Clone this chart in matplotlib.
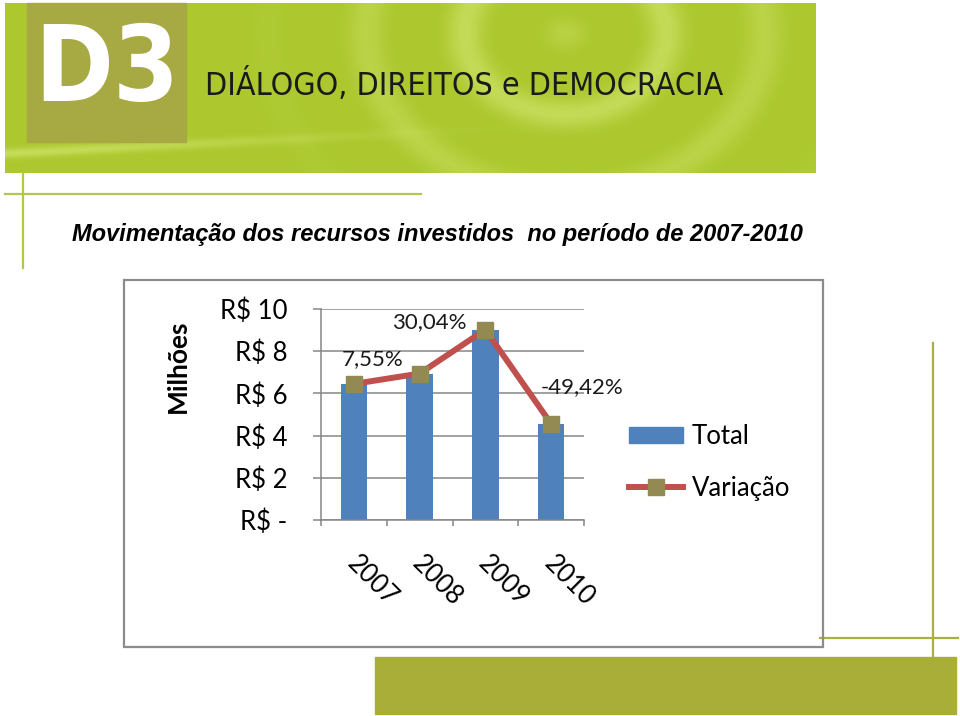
import matplotlib
matplotlib.use("Agg")
import matplotlib.pyplot as plt
import matplotlib.transforms as mtransforms
from matplotlib.patches import Rectangle, Patch
from matplotlib.lines import Line2D
import numpy as np

# dados
anos = ["2007", "2008", "2009", "2010"]
total = [6.45, 6.94, 9.02, 4.56]  # R$ milhões
variacao = ["", "7,55%", "30,04%", "-49,42%"]
y_ticks = [0, 2, 4, 6, 8, 10]
y_labels = ["R$ -", "R$ 2", "R$ 4", "R$ 6", "R$ 8", "R$ 10"]

azul = "#4F81BD"
vermelho = "#C0504D"
oliva = "#938953"
cinza = "#868686"
verde_linha = "#B3C84A"
oliva_caixa = "#A7A943"

W, H = 960, 716
fig = plt.figure(figsize=(W / 100, H / 100), dpi=100)

# fundo / decoração em coordenadas de pixel
bg = fig.add_axes([0, 0, 1, 1])
bg.set_xlim(0, W)
bg.set_ylim(H, 0)
bg.axis("off")

# faixa verde do cabeçalho
bh, bw = 170, 811
yy, xx = np.mgrid[0:bh, 0:bw]
r = np.hypot(xx - 560, (yy - 30) * 1.25)
base = np.array([172, 200, 46]) / 255
claro = np.array([214, 234, 120]) / 255
aneis = (0.5 + 0.5 * np.cos(r / 16.0)) ** 3
env = np.exp(-((r - 110) / 130) ** 2)
mix = aneis * env * 0.55
faixa = np.exp(-((yy - (150 - 0.05 * xx)) / 5.0) ** 2) * np.exp(-(xx / 300.0) ** 2) * 0.6
mix = np.clip(mix + faixa, 0, 1)
img = base * (1 - mix[..., None]) + claro * mix[..., None]
bg.imshow(img, extent=(5, 5 + bw, 3 + bh, 3), aspect="auto", zorder=0)
bg.add_patch(Rectangle((27, 3), 159, 139, color=oliva_caixa, zorder=1))
bg.text(107, 72, "D3", color="white", fontsize=76, fontweight="bold",
        family="DejaVu Sans", fontstretch="condensed", ha="center", va="center", zorder=2)
bg.text(205, 85, "DIÁLOGO, DIREITOS e DEMOCRACIA", color="#1a1a1a", fontsize=23,
        family="DejaVu Sans", fontstretch="condensed", ha="left", va="center", zorder=2)

# linhas finas
bg.plot([5, 421], [194, 194], color=verde_linha, lw=1.6, zorder=1)
bg.plot([23, 23], [173, 268], color=verde_linha, lw=1.6, zorder=1)
bg.plot([933, 933], [343, 657], color="#A9B040", lw=1.6, zorder=1)
bg.plot([820, 958], [638, 638], color="#A9B040", lw=1.6, zorder=1)
bg.add_patch(Rectangle((375, 657), 581, 57, color="#A9AE38", zorder=1))

bg.text(72, 235, "Movimentação dos recursos investidos  no período de 2007-2010",
        fontsize=17.05, fontweight="bold", fontstyle="italic", family="Liberation Sans",
        ha="left", va="center", color="black")

# moldura do gráfico
bg.add_patch(Rectangle((124, 280), 699, 367, fill=False, edgecolor="#8C8C8C", lw=1.6, zorder=1))

bg.text(178, 366, "Milhões", rotation=90, fontsize=19, fontweight="bold",
        family="Lato", ha="center", va="center")

# gráfico
ax = fig.add_axes([321 / W, 1 - 520 / H, 263 / W, 211 / H])
ax.set_facecolor("none")
x = np.arange(len(anos))
ax.bar(x, total, width=0.4, color=azul, zorder=2)
ax.plot(x, total, color=vermelho, lw=4.3, marker="s", markersize=12,
        markerfacecolor=oliva, markeredgecolor=oliva, zorder=3)

offsets = [(0, 0), (-47, 14), (-56, 8), (31, 37)]
for i, (lab, off) in enumerate(zip(variacao, offsets)):
    if lab:
        ax.annotate(lab, (x[i], total[i]), xytext=off, textcoords="offset pixels",
                    ha="center", va="center", fontsize=16, family="Lato", color="#1a1a1a")

ax.set_xlim(-0.5, 3.5)
ax.set_ylim(0, 10)
ax.set_yticks(y_ticks)
ax.set_yticklabels(y_labels, family="Lato", fontsize=18.5)
ax.tick_params(axis="y", length=5.8, width=1.1, color=cinza, pad=18.5)
ax.yaxis.grid(True, color=cinza, lw=1.1, zorder=0)
ax.set_axisbelow(True)

ax.set_xticks(x)
ax.set_xticklabels(anos, family="Lato", fontsize=18.5, rotation=-45,
                   ha="center", va="center", rotation_mode="anchor")
ax.set_xticks(np.arange(-0.5, 4, 1), minor=True)
ax.tick_params(axis="x", which="major", length=0, pad=44)
ax.tick_params(axis="x", which="minor", length=4.5, width=1.1, color=cinza)
shift = mtransforms.ScaledTranslation(18 / 100, 0, fig.dpi_scale_trans)
for t in ax.get_xticklabels():
    t.set_transform(t.get_transform() + shift)

for s in ["top", "right"]:
    ax.spines[s].set_visible(False)
for s in ["left", "bottom"]:
    ax.spines[s].set_color(cinza)
    ax.spines[s].set_linewidth(1.1)

handles = [Patch(color=azul),
           Line2D([], [], color=vermelho, lw=4.3, marker="s", markersize=12,
                  markerfacecolor=oliva, markeredgecolor=oliva)]
fig.legend(handles, ["Total", "Variação"], loc="upper left",
           bbox_to_anchor=(629 / W, 1 - 424 / H), frameon=False, borderpad=0,
           borderaxespad=0, prop={"family": "Lato", "size": 18.5}, handlelength=2.1,
           handleheight=0.6, handletextpad=0.35, labelspacing=1.05)

fig.savefig("out.png", dpi=100)
